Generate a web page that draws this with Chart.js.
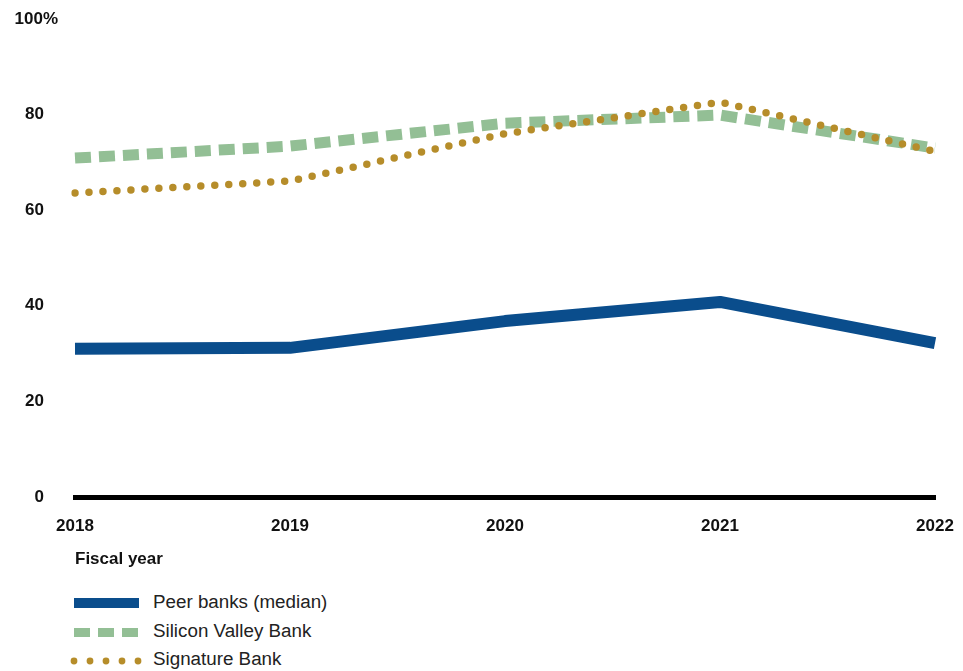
<!DOCTYPE html>
<html>
<head>
<meta charset="utf-8">
<script src="https://cdn.jsdelivr.net/npm/chart.js@4.4.1/dist/chart.umd.min.js"></script>
<style>
  html, body { margin: 0; padding: 0; background: #ffffff; }
  #wrap { position: relative; width: 963px; height: 671px; font-family: 'Liberation Sans', Arial, sans-serif; }
  #chart { position: absolute; left: 0; top: 0; }
  #legend { position: absolute; left: 0; top: 589px; width: 963px; }
  .row { position: absolute; left: 0; height: 28px; width: 500px; }
  .row svg { position: absolute; left: 66px; top: 0; }
  .row span { position: absolute; left: 153px; top: 2px; font-size: 18.8px; color: #222; line-height: 22px; white-space: nowrap; }
</style>
</head>
<body>
<div id="wrap">
  <canvas id="chart" width="963" height="580" style="width:963px;height:580px;"></canvas>
  <div id="legend"></div>
</div>
<script>
const years = ['2018', '2019', '2020', '2021', '2022'];
const peerBanks = [31.0, 31.2, 36.8, 40.8, 32.2];
const siliconValley = [70.9, 73.4, 78.2, 79.9, 73.0];
const signature = [63.6, 66.1, 76.0, 82.6, 72.3];
const yTicks = [0, 20, 40, 60, 80, 100];
const seriesNames = ['Peer banks (median)', 'Silicon Valley Bank', 'Signature Bank'];
const seriesColors = ['#0a4d8c', '#93bf95', '#b68d2a'];
const xTitle = 'Fiscal year';

const FONT = "'Liberation Sans', Arial, sans-serif";

const ctx = document.getElementById('chart').getContext('2d');
new Chart(ctx, {
  type: 'line',
  data: {
    labels: years,
    datasets: [
      { label: seriesNames[2], data: signature, borderColor: seriesColors[2], borderWidth: 7.5,
        borderDash: [0, 14], borderCapStyle: 'round', borderJoinStyle: 'round', pointRadius: 0, tension: 0, fill: false },
      { label: seriesNames[1], data: siliconValley, borderColor: seriesColors[1], borderWidth: 11,
        borderDash: [16, 8], borderCapStyle: 'butt', pointRadius: 0, tension: 0, fill: false },
      { label: seriesNames[0], data: peerBanks, borderColor: seriesColors[0], borderWidth: 12,
        borderJoinStyle: 'round', pointRadius: 0, tension: 0, fill: false }
    ]
  },
  options: {
    responsive: false,
    animation: false,
    devicePixelRatio: 1,
    layout: { padding: { top: 19, right: 28, left: 0, bottom: 0 } },
    plugins: { legend: { display: false }, tooltip: { enabled: false } },
    scales: {
      x: {
        offset: false,
        grid: { display: false, drawTicks: false },
        border: { display: true, color: '#000000', width: 5 },
        ticks: { color: '#111', font: { family: FONT, size: 17, weight: 'bold' }, padding: 19, maxRotation: 0 },
        title: { display: true, text: xTitle, align: 'start', color: '#111',
          font: { family: FONT, size: 17, weight: 'bold' }, padding: { top: 4, bottom: 10 } },
        afterFit: (scale) => { scale.height = 83; scale.paddingLeft = 0; scale.paddingRight = 0; }
      },
      y: {
        min: 0, max: 100,
        afterBuildTicks: (scale) => { scale.ticks = yTicks.map(v => ({ value: v })); },
        grid: { display: false, drawTicks: false },
        border: { display: false },
        ticks: { color: '#111', font: { family: FONT, size: 17, weight: 'bold' }, padding: 17,
          callback: (v) => v === 100 ? '100%' : String(v) + '   ' },
        afterFit: (scale) => { scale.width = 75; scale.paddingTop = 0; scale.paddingBottom = 0; }
      }
    }
  }
});

// HTML legend built from series names/colors
const legend = document.getElementById('legend');
const rowTops = [0, 29, 57];
function sampleSvg(i) {
  const c = seriesColors[i];
  if (i === 0) {
    return `<svg width="80" height="28"><rect x="8" y="9" width="65" height="10" fill="${c}"/></svg>`;
  } else if (i === 1) {
    let s = '';
    for (let k = 0; k < 3; k++) s += `<rect x="${8 + k * 24}" y="10" width="16" height="9" fill="${c}"/>`;
    return `<svg width="80" height="28">${s}</svg>`;
  } else {
    let s = '';
    for (let k = 0; k < 5; k++) s += `<circle cx="${8 + k * 16}" cy="15" r="3.4" fill="${c}"/>`;
    return `<svg width="80" height="28">${s}</svg>`;
  }
}
seriesNames.forEach((name, i) => {
  const row = document.createElement('div');
  row.className = 'row';
  row.style.top = rowTops[i] + 'px';
  row.innerHTML = sampleSvg(i) + `<span>${name}</span>`;
  legend.appendChild(row);
});
</script>
</body>
</html>
